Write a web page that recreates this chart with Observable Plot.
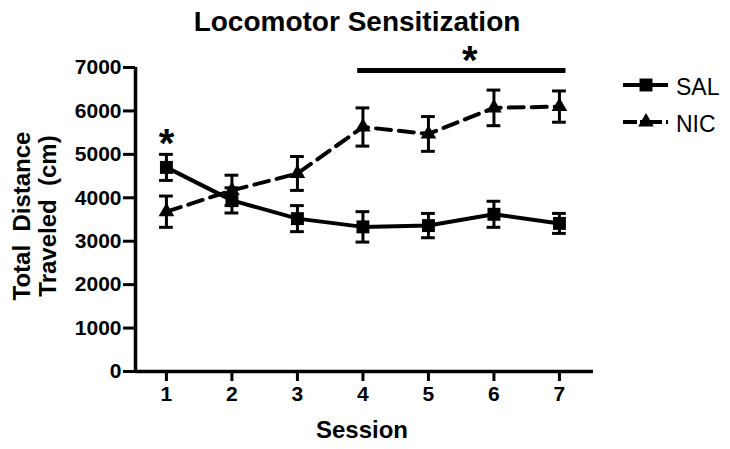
<!DOCTYPE html>
<html>
<head>
<meta charset="utf-8">
<script src="https://cdn.jsdelivr.net/npm/d3@7"></script>
<script src="https://cdn.jsdelivr.net/npm/@observablehq/plot@0.6"></script>
<style>
  html, body { margin: 0; padding: 0; background: #fff; }
  svg text { font-family: "Liberation Sans", Arial, sans-serif; }
</style>
</head>
<body>
<div id="chart"></div>
<script>
// ---- data ----
const sessions = [1, 2, 3, 4, 5, 6, 7];
const salMean = [4700, 3940, 3520, 3330, 3360, 3620, 3410];
const salSem  = [300, 290, 300, 350, 280, 300, 230];
const nicMean = [3680, 4170, 4560, 5630, 5470, 6070, 6100];
const nicSem  = [360, 350, 390, 440, 400, 410, 360];
const yTicks = [0, 1000, 2000, 3000, 4000, 5000, 6000, 7000];
const groups = ["SAL", "NIC"];
const sigBar = {from: 3.92, to: 7.1, y: 6930, starX: 5.63, starY: 7150};
const sigStar1 = {x: 1, y: 5230};

const xMin = 0.528, xMax = 7.52;

const sal = sessions.map((s, i) => ({session: s, mean: salMean[i], sem: salSem[i], group: "SAL"}));
const nic = sessions.map((s, i) => ({session: s, mean: nicMean[i], sem: nicSem[i], group: "NIC"}));
const all = sal.concat(nic);
const capHalf = 0.105;

const plot = Plot.plot({
  width: 730,
  height: 449,
  marginLeft: 135,
  marginRight: 137,
  marginTop: 67,
  marginBottom: 78,
  style: {fontFamily: "Liberation Sans, Arial, sans-serif", background: "#fff", color: "#000"},
  x: {domain: [xMin, xMax]},
  y: {domain: [0, 7000]},
  marks: [
    Plot.axisY({ticks: yTicks, tickSize: 12, tickPadding: 2, strokeWidth: 3, fontSize: 21, fontWeight: "bold", label: null, tickFormat: d => String(d)}),
    Plot.axisX({ticks: sessions, tickSize: 10, tickPadding: 5, strokeWidth: 3, fontSize: 21, fontWeight: "bold", label: null, tickFormat: d => String(d)}),
    Plot.ruleX([xMin], {stroke: "#000", strokeWidth: 3.5}),
    Plot.ruleY([0], {stroke: "#000", strokeWidth: 3.5}),
    // lines
    Plot.line(nic, {x: "session", y: "mean", stroke: "#000", strokeWidth: 4, strokeDasharray: "15,8"}),
    Plot.line(sal, {x: "session", y: "mean", stroke: "#000", strokeWidth: 4}),
    // error bars
    Plot.ruleX(all, {x: "session", y1: d => d.mean - d.sem, y2: d => d.mean + d.sem, stroke: "#000", strokeWidth: 3}),
    Plot.ruleY(all, {y: d => d.mean + d.sem, x1: d => d.session - capHalf, x2: d => d.session + capHalf, stroke: "#000", strokeWidth: 3}),
    Plot.ruleY(all, {y: d => d.mean - d.sem, x1: d => d.session - capHalf, x2: d => d.session + capHalf, stroke: "#000", strokeWidth: 3}),
    // markers
    Plot.dot(sal, {x: "session", y: "mean", symbol: "square", r: 7.3, fill: "#000", stroke: "none"}),
    Plot.dot(nic, {x: "session", y: "mean", symbol: "triangle", r: 5.8, fill: "#000", stroke: "none"}),
    // significance
    Plot.ruleY([sigBar], {y: "y", x1: "from", x2: "to", stroke: "#000", strokeWidth: 5}),
    Plot.text([sigBar], {x: "starX", y: "starY", text: () => "*", fontSize: 40, fontWeight: "bold", fill: "#000"}),
    Plot.text([sigStar1], {x: "x", y: "y", text: () => "*", fontSize: 40, fontWeight: "bold", fill: "#000"})
  ]
});

document.getElementById("chart").appendChild(plot);

const svg = d3.select(plot);
// Title
svg.append("text").attr("x", 357).attr("y", 31).attr("text-anchor", "middle")
  .attr("font-size", 28).attr("font-weight", "bold").attr("fill", "#000")
  .text("Locomotor Sensitization");
// Y label
const yl = svg.append("text").attr("transform", "translate(30,216) rotate(-90)")
  .attr("text-anchor", "middle").attr("font-size", 24).attr("font-weight", "bold").attr("fill", "#000")
  .style("white-space", "pre");
yl.append("tspan").attr("x", 0).attr("dy", 0).text("Total  Distance");
yl.append("tspan").attr("x", 0).attr("dy", 26).text("Traveled  (cm)");
// X label
svg.append("text").attr("x", 362).attr("y", 438).attr("text-anchor", "middle")
  .attr("font-size", 24).attr("font-weight", "bold").attr("fill", "#000").text("Session");

// Legend
const lg = svg.append("g");
const legendRows = [
  {name: groups[0], y: 85, dash: null},
  {name: groups[1], y: 122, dash: "14,3,22,4,2,100"}
];
legendRows.forEach((r, i) => {
  lg.append("line").attr("x1", 623).attr("x2", 668).attr("y1", r.y).attr("y2", r.y)
    .attr("stroke", "#000").attr("stroke-width", 4).attr("stroke-dasharray", r.dash);
  const sym = i === 0 ? d3.symbol(d3.symbolSquare, 7.3 * 7.3 * Math.PI) : d3.symbol(d3.symbolTriangle, 5.8 * 5.8 * Math.PI);
  lg.append("path").attr("d", sym()).attr("transform", `translate(646,${r.y})`).attr("fill", "#000");
  lg.append("text").attr("x", 676).attr("y", r.y + 10).attr("text-anchor", "start")
    .attr("font-size", 23).attr("fill", "#000").text(r.name);
});
</script>
</body>
</html>
